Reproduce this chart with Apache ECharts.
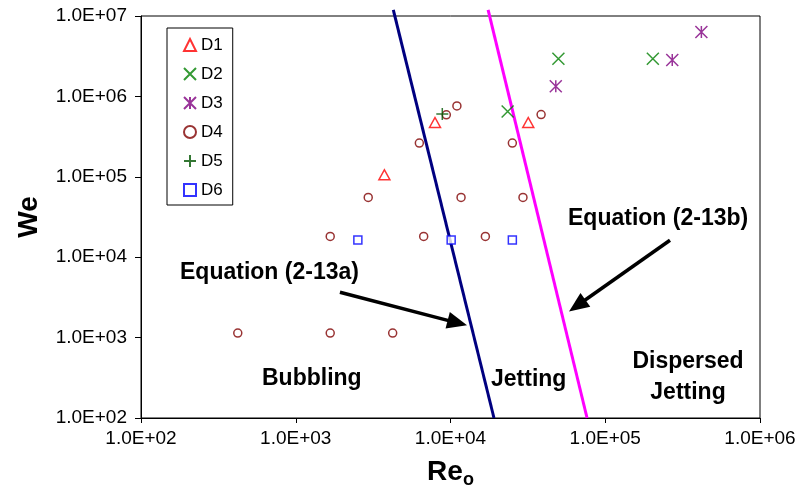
<!DOCTYPE html>
<html>
<head>
<meta charset="utf-8">
<script src="https://cdn.jsdelivr.net/npm/echarts@6/dist/echarts.min.js"></script>
<style>
  html, body { margin: 0; padding: 0; background: #fff; }
  #chart { width: 799px; height: 493px; }
</style>
</head>
<body>
<div id="chart"></div>
<script>
const FONT = '"Liberation Sans", Arial, Helvetica, sans-serif';

// Measured points, each as [Re_o, We]
const d1 = [[3740, 1.06e5], [7940, 4.73e5], [31800, 4.73e5]];
const d2 = [[23400, 6.5e5], [49800, 2.94e6], [203000, 2.94e6]];
const d3 = [[47900, 1.34e6], [271000, 2.83e6], [418000, 6.31e6]];
const d4 = [
  [11000, 7.6e5], [9400, 5.9e5], [6290, 2.63e5], [25100, 2.63e5], [38500, 5.94e5],
  [2940, 5.54e4], [11700, 5.54e4], [29400, 5.54e4],
  [1670, 1.81e4], [6710, 1.81e4], [16800, 1.81e4],
  [422, 1140], [1670, 1140], [4230, 1140]
];
const d5 = [[8850, 6.05e5]];
const d6 = [[2520, 1.64e4], [10100, 1.64e4], [25100, 1.64e4]];

// Regime boundaries (end points)
const eq13a = [[4270, 1.19e7], [19100, 100]];
const eq13b = [[17500, 1.19e7], [76300, 100]];

// Annotation arrows: [tail, head] in data units
const arrowA = [[1930, 3660], [12790, 1420]];
const arrowB = [[262000, 16230], [58340, 2118]];

const xTickLabels = ['1.0E+02', '1.0E+03', '1.0E+04', '1.0E+05', '1.0E+06'];
const yTickLabels = ['1.0E+02', '1.0E+03', '1.0E+04', '1.0E+05', '1.0E+06', '1.0E+07'];

const SYM_X = 'path://M0,0L10,10M10,0L0,10';
const SYM_STAR = 'path://M0,0L10,10M10,0L0,10M5,0L5,10';
const SYM_PLUS = 'path://M5,0L5,10M0,5L10,5';

function expOf(v) { return Math.round(Math.log10(v)); }

function scatter(name, data, symbol, size, color, fill) {
  return {
    name, type: 'scatter', data, symbol, symbolSize: size, z: 5,
    itemStyle: { color: fill || color, borderColor: color, borderWidth: 1.5 },
    emphasis: { disabled: true }
  };
}

function boundary(name, data, color) {
  return {
    name, type: 'line', data, showSymbol: false, symbol: 'none', clip: false, z: 3,
    lineStyle: { color, width: 3 }, emphasis: { disabled: true }, silent: true
  };
}

const chart = echarts.init(document.getElementById('chart'), null, { renderer: 'canvas' });

const option = {
  animation: false,
  backgroundColor: '#fff',
  textStyle: { fontFamily: FONT },
  grid: {
    left: 141, right: 39, top: 16, bottom: 75,
    containLabel: false, outerBoundsMode: 'none',
    show: true, borderColor: '#000', borderWidth: 1
  },
  xAxis: {
    type: 'log', logBase: 10, min: 100, max: 1e6,
    axisLine: { lineStyle: { color: '#000', width: 1 } },
    axisTick: { show: true, inside: false, length: 5, lineStyle: { color: '#000' } },
    splitLine: { show: false },
    axisLabel: {
      margin: 11, color: '#000', fontSize: 19, fontFamily: FONT,
      formatter: v => xTickLabels[expOf(v) - 2]
    },
    name: '{a|Re}{b|o}',
    nameLocation: 'middle', nameGap: 37,
    nameTextStyle: {
      rich: {
        a: { fontSize: 28, fontWeight: 'bold', fontFamily: FONT, color: '#000' },
        b: { fontSize: 18, fontWeight: 'bold', fontFamily: FONT, color: '#000', padding: [16, 0, 0, 0] }
      }
    }
  },
  yAxis: {
    type: 'log', logBase: 10, min: 100, max: 1e7,
    axisLine: { lineStyle: { color: '#000', width: 1 } },
    axisTick: { show: true, inside: false, length: 6, lineStyle: { color: '#000' } },
    splitLine: { show: false },
    axisLabel: {
      margin: 14, color: '#000', fontSize: 19, fontFamily: FONT,
      formatter: v => yTickLabels[expOf(v) - 2]
    },
    name: 'We', nameLocation: 'middle', nameRotate: 90, nameGap: 98,
    nameTextStyle: { fontSize: 28, fontWeight: 'bold', fontFamily: FONT, color: '#000' }
  },
  legend: {
    orient: 'vertical', left: 167, top: 28,
    padding: [7, 10, 5, 16], itemGap: 9, itemWidth: 12, itemHeight: 12,
    borderColor: '#000', borderWidth: 1, backgroundColor: '#fff', borderRadius: 0,
    selectedMode: false,
    textStyle: { fontFamily: FONT, fontSize: 17, color: '#000', lineHeight: 20 },
    data: ['D1', 'D2', 'D3', 'D4', 'D5', 'D6']
  },
  series: [
    boundary('Equation (2-13a)', eq13a, '#000080'),
    boundary('Equation (2-13b)', eq13b, '#FF00FF'),
    scatter('D1', d1, 'triangle', [11, 10], '#FF0000', '#fff'),
    scatter('D2', d2, SYM_X, 12, '#008000'),
    scatter('D3', d3, SYM_STAR, 12, '#800080'),
    scatter('D4', d4, 'circle', 8, '#800000', '#fff'),
    scatter('D5', d5, SYM_PLUS, 12, '#005500'),
    scatter('D6', d6, 'rect', 8, '#0000FF', '#fff')
  ]
};

chart.setOption(option);

// Arrow graphics built from data coordinates
function arrowGraphics(pair) {
  const p0 = chart.convertToPixel({ gridIndex: 0 }, pair[0]);
  const p1 = chart.convertToPixel({ gridIndex: 0 }, pair[1]);
  const dx = p1[0] - p0[0], dy = p1[1] - p0[1];
  const len = Math.sqrt(dx * dx + dy * dy);
  const ux = dx / len, uy = dy / len;
  const headLen = 20, headHalf = 8.5;
  const bx = p1[0] - ux * headLen, by = p1[1] - uy * headLen;
  return [
    { type: 'line', silent: true, z: 10,
      shape: { x1: p0[0], y1: p0[1], x2: bx + ux * 2, y2: by + uy * 2 },
      style: { stroke: '#000', lineWidth: 3.5 } },
    { type: 'polygon', silent: true, z: 10,
      shape: { points: [[p1[0], p1[1]], [bx - uy * headHalf, by + ux * headHalf], [bx + uy * headHalf, by - ux * headHalf]] },
      style: { fill: '#000' } }
  ];
}

function label(text, x, y, align) {
  return {
    type: 'text', silent: true, z: 10, x, y,
    style: {
      text, fill: '#000', font: 'bold 23px ' + FONT,
      textAlign: align || 'left', textVerticalAlign: 'middle', lineHeight: 31
    }
  };
}

chart.setOption({
  graphic: [
    ...arrowGraphics(arrowA),
    ...arrowGraphics(arrowB),
    label('Equation (2-13a)', 180, 273),
    label('Equation (2-13b)', 568, 219),
    label('Bubbling', 262, 379),
    label('Jetting', 491, 380),
    label('Dispersed\nJetting', 688, 377, 'center')
  ]
});
</script>
</body>
</html>
